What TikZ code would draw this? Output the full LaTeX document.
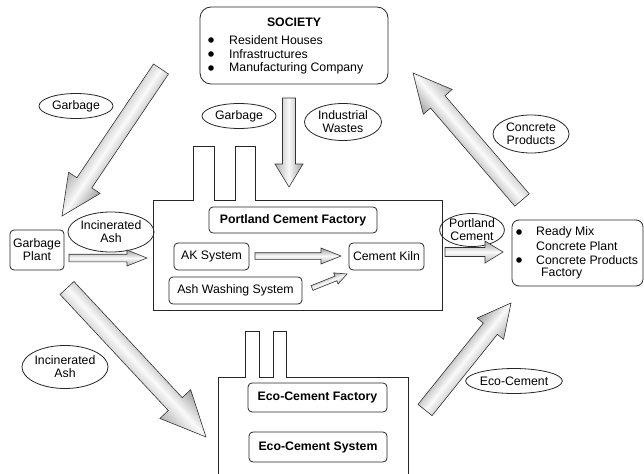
\documentclass[tikz,border=0pt]{standalone}
\usepackage{fontspec}
\setmainfont{Liberation Sans}
\usetikzlibrary{calc,shapes.geometric}
\tikzset{
  box/.style={draw=black!85, line width=0.8pt, rounded corners=4pt, inner sep=0pt, align=center},
  oval/.style={draw=black!85, line width=0.8pt, ellipse, inner sep=0pt, align=center},
  outline/.style={draw=black!85, line width=0.8pt},
  bul/.style={circle, fill=black, inner sep=0pt, minimum size=5.6pt},
  txt/.style={inner sep=0pt, anchor=west},
  bigarrow/.style={draw=black!80, line width=0.6pt, top color=gray!75, bottom color=gray!60, middle color=white!96!gray},
}
\newcommand\fatarrow[5]{%
  \path let \p1=(#1), \p2=(#2) in \pgfextra{%
    \pgfmathsetmacro\fatA{atan2(\y2-\y1,\x2-\x1)}%
    \pgfmathsetmacro\fatL{veclen(\x2-\x1,\y2-\y1)}%
    \xdef\fatAng{\fatA}\xdef\fatLen{\fatL}%
    \xdef\fatX{\x1}\xdef\fatY{\y1}};
  \pgfmathsetmacro\fatB{\fatLen-#5}%
  \begin{scope}[transform canvas={shift={(\fatX,\fatY)},rotate=\fatAng}]
    \path[bigarrow] (0,-#3) -- (\fatB,-#3) -- (\fatB,-#4) -- (\fatLen,0) -- (\fatB,#4) -- (\fatB,#3) -- (0,#3) -- cycle;
  \end{scope}}
\begin{document}
\begin{tikzpicture}[x=1pt,y=-1pt,font=\fontsize{12.3}{13}\selectfont]
\useasboundingbox[fill=white] (0,0) rectangle (644,473);

% factory outlines
\draw[outline] (153,310) -- (153,200) -- (193,200) -- (193,146) -- (214,146) -- (214,200)
  -- (235,200) -- (235,146) -- (255,146) -- (255,200) -- (442,200) -- (442,310) -- cycle;
\draw[outline] (218,476) -- (218,377) -- (245,377) -- (245,331) -- (259,331) -- (259,377)
  -- (273,377) -- (273,331) -- (286,331) -- (286,377) -- (408,377) -- (408,476);

% society
\node[box, rounded corners=11pt, minimum width=188pt, minimum height=77pt] (soc) at (294,45.5) {};
\node[inner sep=0pt, font=\fontsize{12.3}{13}\selectfont\bfseries] (soct) at (294,22) {SOCIETY};
\node[bul] (b1) at (211,40) {};
\node[bul] (b2) at (211,54) {};
\node[bul] (b3) at (211,68) {};
\node[txt] (t1) at (229,40) {Resident Houses};
\node[txt] (t2) at (229,54) {Infrastructures};
\node[txt] (t3) at (229,68) {Manufacturing Company};

% boxes
\node[box, minimum width=54pt, minimum height=40pt] (gp) at (37,250) {Garbage\\Plant};
\node[box, minimum width=168pt, minimum height=26pt, font=\fontsize{12.3}{13}\selectfont\bfseries] (pcf) at (293,220) {Portland Cement Factory};
\node[box, minimum width=75pt, minimum height=27pt] (ak) at (211.5,256.5) {AK System};
\node[box, minimum width=75pt, minimum height=27pt] (kiln) at (386.5,256.5) {Cement Kiln};
\node[box, minimum width=133pt, minimum height=27pt] (ash) at (235.5,290.5) {Ash Washing System};
\node[box, rounded corners=7pt, minimum width=131pt, minimum height=66pt] (rmc) at (577.5,253) {};
\node[bul] (b4) at (519,232) {};
\node[bul] (b5) at (519,260) {};
\node[txt] (r1) at (536,232) {Ready Mix};
\node[txt] (r2) at (536,246) {Concrete Plant};
\node[txt] (r3) at (536,260) {Concrete Products};
\node[txt] (r4) at (541,274) {Factory};
\node[box, minimum width=139pt, minimum height=29pt, font=\fontsize{12.3}{13}\selectfont\bfseries] (ecof) at (317.5,397.5) {Eco-Cement Factory};
\node[box, minimum width=138pt, minimum height=30pt, font=\fontsize{12.3}{13}\selectfont\bfseries] (ecos) at (318,447) {Eco-Cement System};

% ellipses
\node[oval, minimum width=74pt, minimum height=25pt] (g1) at (76,106) {Garbage};
\node[oval, minimum width=74pt, minimum height=25pt] (g2) at (239,116) {Garbage};
\node[oval, minimum width=77pt, minimum height=37pt] (iw) at (343,122) {Industrial\\Wastes};
\node[oval, minimum width=76pt, minimum height=38pt] (cp) at (531,134) {Concrete\\Products};
\node[oval, minimum width=77pt, minimum height=40pt] (ia1) at (111,232) {Incinerated\\Ash};
\node[oval, minimum width=56pt, minimum height=33pt] (pc) at (472,230) {Portland\\Cement};
\node[oval, minimum width=78pt, minimum height=43pt] (ia2) at (65,367) {Incinerated\\Ash};
\node[oval, minimum width=95pt, minimum height=25pt] (ec) at (514,381) {Eco-Cement};

% arrow end points
\coordinate (a1s) at (161,69);  \coordinate (a1e) at (62,216);
\coordinate (a2s) at (289,98);  \coordinate (a2e) at (289,187);
\coordinate (a3s) at (522,200); \coordinate (a3e) at (413,73);
\coordinate (a4s) at (67,288);  \coordinate (a4e) at (206,437);
\coordinate (a5s) at (425,410); \coordinate (a5e) at (511,303);
\coordinate (s1s) at (69,258);  \coordinate (s1e) at (147,258);
\coordinate (s2s) at (255,256); \coordinate (s2e) at (341,256);
\coordinate (s3s) at (445,252); \coordinate (s3e) at (503,252);
\coordinate (s4s) at (312,288); \coordinate (s4e) at (347,274);

\fatarrow{a1s}{a1e}{9}{19}{40}
\fatarrow{a2s}{a2e}{6.5}{14}{23}
\fatarrow{a3s}{a3e}{9.5}{19}{38}
\fatarrow{a4s}{a4e}{9.5}{21}{45}
\fatarrow{a5s}{a5e}{9}{17}{33}
\fatarrow{s1s}{s1e}{3.8}{8}{20}
\fatarrow{s2s}{s2e}{3.3}{8}{20}
\fatarrow{s3s}{s3e}{4.5}{11}{18}
\fatarrow{s4s}{s4e}{2.5}{6}{12}
\end{tikzpicture}
\end{document}
